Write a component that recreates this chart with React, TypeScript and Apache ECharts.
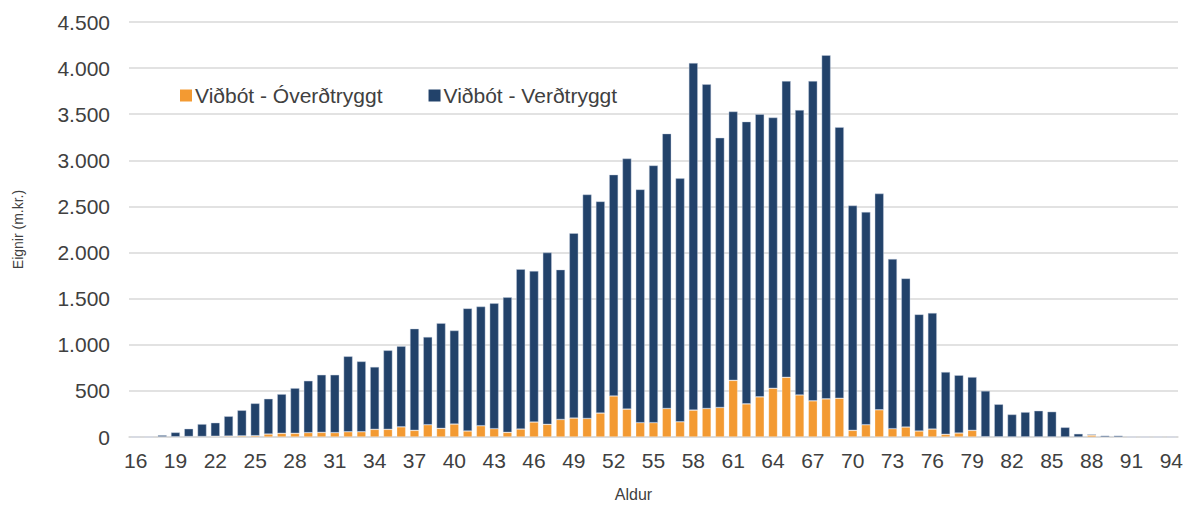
import React, { useEffect, useRef } from "react";
import * as echarts from "echarts";

const ages: string[] = [
  "16","17","18","19","20","21","22","23","24","25","26","27","28","29","30",
  "31","32","33","34","35","36","37","38","39","40","41","42","43","44","45",
  "46","47","48","49","50","51","52","53","54","55","56","57","58","59","60",
  "61","62","63","64","65","66","67","68","69","70","71","72","73","74","75",
  "76","77","78","79","80","81","82","83","84","85","86","87","88","89","90",
  "91","92","93","94",
];

// Viðbót - Óverðtryggt (m.kr.)
const overdtryggt: number[] = [
  0, 0, 2, 3, 5, 5, 8, 10, 12, 14, 32, 40, 40, 47, 50,
  47, 57, 57, 83, 83, 110, 72, 133, 93, 140, 65, 122, 90, 50, 86,
  162, 137, 190, 205, 201, 259, 445, 302, 155, 155, 309, 165, 291, 309, 320,
  614, 359, 435, 528, 647, 456, 392, 413, 420, 72, 133, 295, 90, 108, 65,
  86, 29, 43, 72, 3, 2, 1, 1, 1, 1, 0, 0, 20, 0, 0,
  0, 0, 0, 0,
];

// Viðbót - Verðtryggt (m.kr.)
const verdtryggt: number[] = [
  0, 0, 18, 47, 85, 135, 147, 215, 278, 351, 383, 425, 490, 563, 625,
  628, 818, 763, 677, 857, 875, 1103, 952, 1142, 1015, 1330, 1293, 1360, 1465, 1734,
  1638, 1863, 1625, 2005, 2429, 2296, 2400, 2718, 2530, 2790, 2981, 2640, 3764, 3516, 2925,
  2916, 3061, 3065, 2937, 3213, 3089, 3468, 3727, 2940, 2438, 2307, 2345, 1840, 1612, 1265,
  1259, 676, 627, 578, 497, 353, 244, 269, 284, 274, 105, 35, 10, 15, 15,
  0, 0, 0, 0,
];

const FONT = "'Liberation Sans', Arial, sans-serif";
const TEXT = "#404040";

export default function App() {
  const ref = useRef<HTMLDivElement>(null);
  useEffect(() => {
    document.body.style.margin = "0";
    if (!ref.current) return;
    const chart = echarts.init(ref.current, null, { renderer: "svg" });
    chart.setOption({
      animation: false,
      textStyle: { fontFamily: FONT },
      grid: { left: 129, right: 10, top: 22, bottom: 67 },
      legend: {
        left: 175,
        top: 80,
        itemWidth: 12,
        itemHeight: 12,
        itemGap: 46,
        icon: "rect",
        itemStyle: { borderWidth: 0 },
        textStyle: { fontSize: 21, color: TEXT, fontFamily: FONT, padding: [0, 0, 0, -2] },
        data: ["Viðbót - Óverðtryggt", "Viðbót - Verðtryggt"],
      },
      xAxis: {
        type: "category",
        data: ages,
        name: "Aldur",
        nameLocation: "middle",
        nameGap: 49,
        nameTextStyle: { fontSize: 16, color: TEXT, padding: [0, 40, 0, 0] },
        axisTick: { show: false },
        axisLine: { lineStyle: { color: "#D9D9D9", width: 1.5 } },
        axisLabel: { interval: 2, fontSize: 21, color: TEXT, margin: 13 },
      },
      yAxis: {
        type: "value",
        min: 0,
        max: 4500,
        interval: 500,
        name: "Eignir (m.kr.)",
        nameLocation: "middle",
        nameGap: 104,
        nameTextStyle: { fontSize: 14, color: TEXT },
        axisLabel: {
          fontSize: 21,
          color: TEXT,
          margin: 19,
          formatter: (v: number) => String(v).replace(/\B(?=(\d{3})+(?!\d))/g, "."),
        },
        splitLine: { lineStyle: { color: "#D9D9D9", width: 1.5 } },
      },
      series: [
        {
          name: "Viðbót - Óverðtryggt",
          type: "bar",
          stack: "total",
          data: overdtryggt,
          barWidth: "68%",
          itemStyle: { color: "#F39A32", borderColor: "rgba(255,255,255,0.45)", borderWidth: 0.6 },
        },
        {
          name: "Viðbót - Verðtryggt",
          type: "bar",
          stack: "total",
          data: verdtryggt,
          barWidth: "68%",
          itemStyle: { color: "#22426A", borderColor: "rgba(200,210,225,0.7)", borderWidth: 0.6 },
        },
      ],
    });
    return () => chart.dispose();
  }, []);
  return <div ref={ref} style={{ width: 1188, height: 507 }} />;
}
